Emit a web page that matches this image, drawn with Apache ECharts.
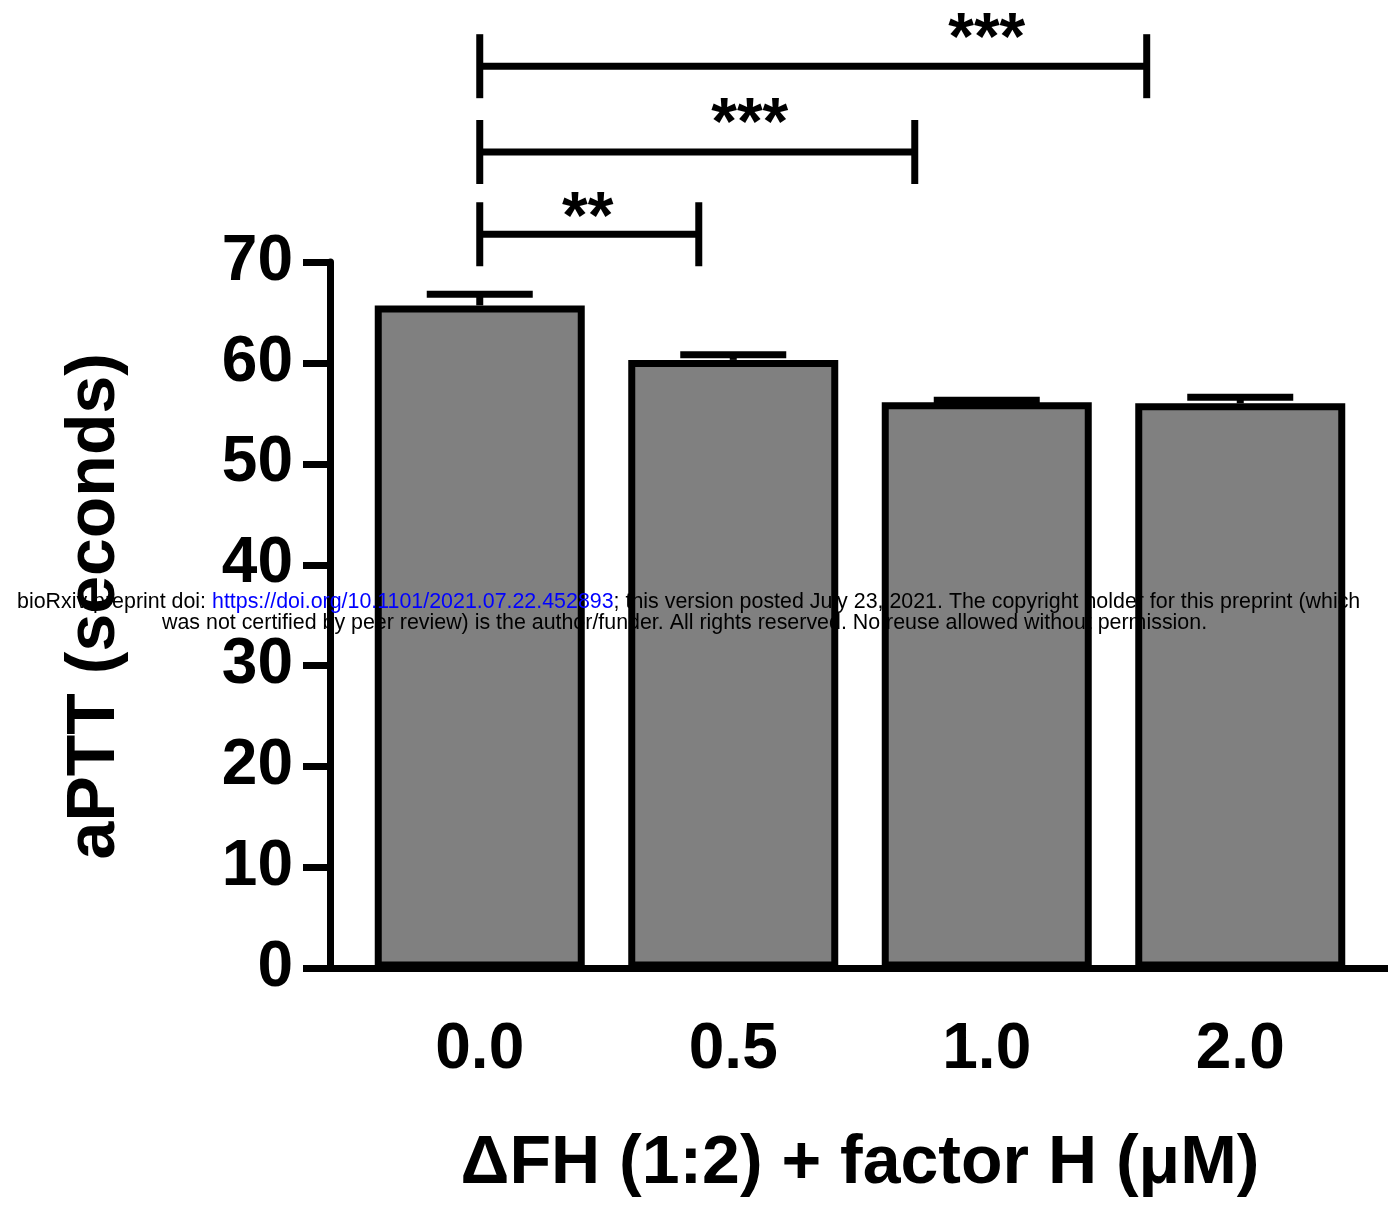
<!DOCTYPE html>
<html>
<head>
<meta charset="utf-8">
<script src="https://cdn.jsdelivr.net/npm/echarts@6/dist/echarts.min.js"></script>
<style>
  html, body { margin: 0; padding: 0; background: #fff; }
  #chart { width: 1388px; height: 1208px; }
</style>
</head>
<body>
<div id="chart"></div>
<script>
// factor H dose (uM) and measured aPTT (s)
var doses = ['0.0', '0.5', '1.0', '2.0'];
var aptt = [65.7, 60.3, 56.1, 56.0];
var apttUpper = [66.8, 60.8, 56.3, 56.6];

// significance brackets, x in category units from the first bar
var sigLeft = [0, 0, 0];
var sigRight = [0.864, 1.716, 2.631];
var sigLevel = [72.75, 80.9, 89.4];
var sigStarAt = [0.426, 1.065, 2.0];
var sigStarLevel = [75.5, 84.8, 93.2];
var sigStars = ['**', '***', '***'];

var FONT = '"Liberation Sans", Arial, Helvetica, sans-serif';

function renderErrorBar(params, api) {
    var base = api.coord([api.value(0), api.value(1)]);
    var top = api.coord([api.value(0), api.value(2)]);
    var half = 53;
    var ls = { stroke: '#000', lineWidth: 7 };
    return {
        type: 'group',
        children: [
            { type: 'line', shape: { x1: base[0], y1: base[1], x2: top[0], y2: top[1] }, style: ls },
            { type: 'line', shape: { x1: top[0] - half, y1: top[1], x2: top[0] + half, y2: top[1] }, style: ls }
        ]
    };
}

function renderBracket(params, api) {
    var i = params.dataIndex;
    var origin = api.coord([0, sigLevel[i]]);
    var starPt = api.coord([0, sigStarLevel[i]]);
    var band = api.size([1, 0])[0];
    var x1 = origin[0] + sigLeft[i] * band;
    var x2 = origin[0] + sigRight[i] * band;
    var y = origin[1];
    var tickH = 32;
    var ls = { stroke: '#000', lineWidth: 7 };
    return {
        type: 'group',
        children: [
            { type: 'line', shape: { x1: x1, y1: y, x2: x2, y2: y }, style: ls },
            { type: 'line', shape: { x1: x1, y1: y - tickH, x2: x1, y2: y + tickH }, style: ls },
            { type: 'line', shape: { x1: x2, y1: y - tickH, x2: x2, y2: y + tickH }, style: ls },
            {
                type: 'text',
                style: {
                    text: sigStars[i],
                    x: origin[0] + sigStarAt[i] * band,
                    y: starPt[1] + 13,   // asterisk glyph sits above the em-box middle
                    align: 'center',
                    verticalAlign: 'middle',
                    font: 'bold 66px ' + FONT,
                    fill: '#000'
                }
            }
        ]
    };
}

var chart = echarts.init(document.getElementById('chart'), null, { renderer: 'canvas' });

var option = {
    backgroundColor: '#fff',
    animation: false,
    grid: { left: 353, right: 21, top: 262, bottom: 239.5 },
    xAxis: {
        type: 'category',
        data: doses,
        name: '\u0394FH (1:2) + factor H (\u03bcM)',
        nameLocation: 'middle',
        nameGap: 162,
        nameTextStyle: { fontFamily: FONT, fontWeight: 'bold', fontSize: 68, color: '#000' },
        axisLine: { lineStyle: { color: '#000', width: 7 } },
        axisTick: { alignWithLabel: true, length: 28, lineStyle: { color: '#000', width: 7 } },
        axisLabel: { margin: 50, fontFamily: FONT, fontWeight: 'bold', fontSize: 64, color: '#000' },
        splitLine: { show: false }
    },
    yAxis: {
        type: 'value',
        min: 0,
        max: 70,
        interval: 10,
        offset: 23,
        name: 'aPTT (seconds)',
        nameLocation: 'middle',
        nameGap: 201,
        nameTextStyle: { fontFamily: FONT, fontWeight: 'bold', fontSize: 68, color: '#000', padding: [0, 0, 0, 18] },
        axisLine: { show: true, lineStyle: { color: '#000', width: 7 } },
        axisTick: { show: true, length: 27, lineStyle: { color: '#000', width: 7 } },
        axisLabel: { margin: 37, fontFamily: FONT, fontWeight: 'bold', fontSize: 64, color: '#000' },
        splitLine: { show: false }
    },
    series: [
        {
            type: 'bar',
            data: aptt,
            barWidth: 210,
            itemStyle: { color: '#808080', borderColor: '#000', borderWidth: 7 },
            z: 2
        },
        {
            type: 'custom',
            renderItem: renderErrorBar,
            data: doses.map(function (d, i) { return [i, aptt[i], apttUpper[i]]; }),
            z: 3
        },
        {
            type: 'custom',
            renderItem: renderBracket,
            clip: false,
            data: sigLevel.map(function (v) { return [0, v]; }),
            z: 3
        }
    ],
    graphic: [
        { type: 'line', shape: { x1: 303, y1: 968.5, x2: 356, y2: 968.5 }, style: { stroke: '#000', lineWidth: 7 }, z: 5 },
        { type: 'line', shape: { x1: 1364, y1: 968.5, x2: 1388, y2: 968.5 }, style: { stroke: '#000', lineWidth: 7 }, z: 5 },
        {
            type: 'text', left: 17, top: 592, z: 10,
            style: {
                text: '{k|bioRxiv preprint doi: }{u|https://doi.org/10.1101/2021.07.22.452893}{k|; this version posted July 23, 2021. The copyright holder for this preprint (which}',
                rich: {
                    k: { fontFamily: FONT, fontSize: 21.4, fill: '#000' },
                    u: { fontFamily: FONT, fontSize: 21.4, fill: '#0000ff' }
                }
            }
        },
        {
            type: 'text', left: 162, top: 613, z: 10,
            style: {
                text: 'was not certified by peer review) is the author/funder. All rights reserved. No reuse allowed without permission.',
                font: '21.4px ' + FONT,
                fill: '#000'
            }
        }
    ]
};

chart.setOption(option);
</script>
</body>
</html>
